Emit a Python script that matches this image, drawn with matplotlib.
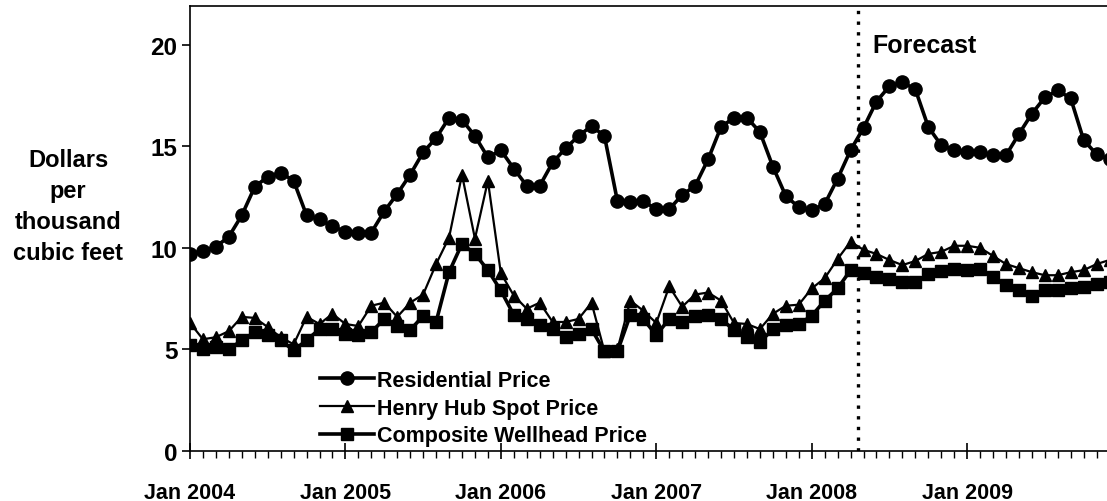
import matplotlib
matplotlib.use("Agg")
import matplotlib.pyplot as plt
from matplotlib.ticker import MultipleLocator, FixedLocator
import numpy as np

plt.rcParams['font.family'] = ['Liberation Sans', 'DejaVu Sans']
plt.rcParams['font.weight'] = 'bold'

# Monthly data, Jan 2004 .. Dec 2009 (72 months)
residential = [9.7, 9.85, 10.05, 10.55, 11.6, 13.0, 13.5, 13.7, 13.3, 11.6, 11.4, 11.05,
               10.8, 10.75, 10.75, 11.8, 12.65, 13.6, 14.7, 15.4, 16.4, 16.3, 15.5, 14.45,
               14.8, 13.9, 13.05, 13.05, 14.2, 14.9, 15.5, 16.0, 15.5, 12.3, 12.25, 12.3,
               11.9, 11.9, 12.6, 13.05, 14.35, 15.95, 16.4, 16.4, 15.7, 14.0, 12.55, 12.0,
               11.85, 12.15, 13.4, 14.8, 15.9, 17.2, 17.95, 18.15, 17.8, 15.95, 15.05, 14.8,
               14.7, 14.7, 14.55, 14.55, 15.6, 16.6, 17.4, 17.75, 17.35, 15.3, 14.6, 14.35]
henry_hub = [6.3, 5.5, 5.6, 5.9, 6.6, 6.55, 6.1, 5.6, 5.25, 6.6, 6.25, 6.75,
             6.25, 6.15, 7.15, 7.3, 6.6, 7.3, 7.7, 9.2, 10.5, 13.6, 10.45, 13.3,
             8.75, 7.65, 7.0, 7.3, 6.35, 6.35, 6.5, 7.3, 4.9, 5.0, 7.4, 6.9,
             6.3, 8.1, 7.1, 7.7, 7.8, 7.4, 6.3, 6.25, 6.0, 6.75, 7.15, 7.2,
             8.0, 8.5, 9.45, 10.3, 9.9, 9.7, 9.4, 9.15, 9.35, 9.7, 9.8, 10.1,
             10.1, 10.0, 9.6, 9.2, 9.0, 8.8, 8.65, 8.65, 8.8, 8.9, 9.2, 9.4]
wellhead = [5.2, 5.0, 5.1, 5.0, 5.45, 5.85, 5.7, 5.45, 4.95, 5.45, 6.0, 6.0,
            5.75, 5.7, 5.85, 6.5, 6.15, 5.95, 6.65, 6.35, 8.8, 10.2, 9.7, 8.9,
            7.9, 6.7, 6.5, 6.2, 6.0, 5.6, 5.75, 6.0, 4.9, 4.9, 6.7, 6.5,
            5.7, 6.5, 6.35, 6.65, 6.7, 6.5, 5.95, 5.6, 5.35, 6.0, 6.2, 6.25,
            6.65, 7.4, 8.0, 8.9, 8.75, 8.55, 8.45, 8.3, 8.3, 8.7, 8.85, 8.95,
            8.9, 8.95, 8.55, 8.15, 7.9, 7.65, 7.9, 7.9, 8.0, 8.05, 8.2, 8.3]
year_labels = ['Jan 2004', 'Jan 2005', 'Jan 2006', 'Jan 2007', 'Jan 2008', 'Jan 2009']
forecast_start = 51.6  # months after Jan 2004
y_ticks = [0, 5, 10, 15, 20]

months = np.arange(len(residential))

fig = plt.figure(figsize=(11.07, 5.02), dpi=100)
ax = fig.add_axes([190/1107, 50/502, 1 - 190/1107, 445/502])

ax.plot(months, residential, color='black', lw=2.6, marker='o', ms=9.5, label='Residential Price')
ax.plot(months, henry_hub, color='black', lw=1.6, marker='^', ms=8.5, label='Henry Hub Spot Price')
ax.plot(months, wellhead, color='black', lw=2.6, marker='s', ms=8.5, label='Composite Wellhead Price')

ax.axvline(forecast_start, color='black', lw=2.4, ls=(0, (1, 2.2)))
ax.text(forecast_start + 1.1, 20, 'Forecast', fontsize=18, fontweight='bold', va='center', ha='left')

ax.set_xlim(0, 70.8)
ax.set_ylim(0, 21.9)
ax.xaxis.set_major_locator(FixedLocator([12 * i for i in range(len(year_labels))]))
ax.set_xticklabels(year_labels)
ax.xaxis.set_minor_locator(MultipleLocator(1))
ax.set_yticks(y_ticks)
ax.set_yticklabels([str(v) for v in y_ticks])

ax.tick_params(axis='x', which='major', direction='inout', length=12, width=1.2, pad=16, labelsize=15.5)
ax.tick_params(axis='x', which='minor', direction='out', length=5, width=1)
ax.tick_params(axis='y', which='major', direction='out', length=6, width=1.2, pad=3, labelsize=17.5)
for lab in ax.get_xticklabels() + ax.get_yticklabels():
    lab.set_fontweight('bold')

ax.spines['right'].set_visible(False)
for s in ['left', 'bottom', 'top']:
    ax.spines[s].set_linewidth(1.2)

fig.text(68/1107, 1 - 207/502, 'Dollars\nper\nthousand\ncubic feet', ha='center', va='center',
         fontsize=17, fontweight='bold', linespacing=1.45)

leg = ax.legend(loc='center left', bbox_to_anchor=(320/1107, 1 - 409/502), bbox_transform=fig.transFigure,
                frameon=False, fontsize=15.5, handlelength=2.5, handletextpad=0.15, labelspacing=0.32,
                borderpad=0, borderaxespad=0)
for t in leg.get_texts():
    t.set_fontweight('bold')

fig.savefig('out.png', dpi=100)
